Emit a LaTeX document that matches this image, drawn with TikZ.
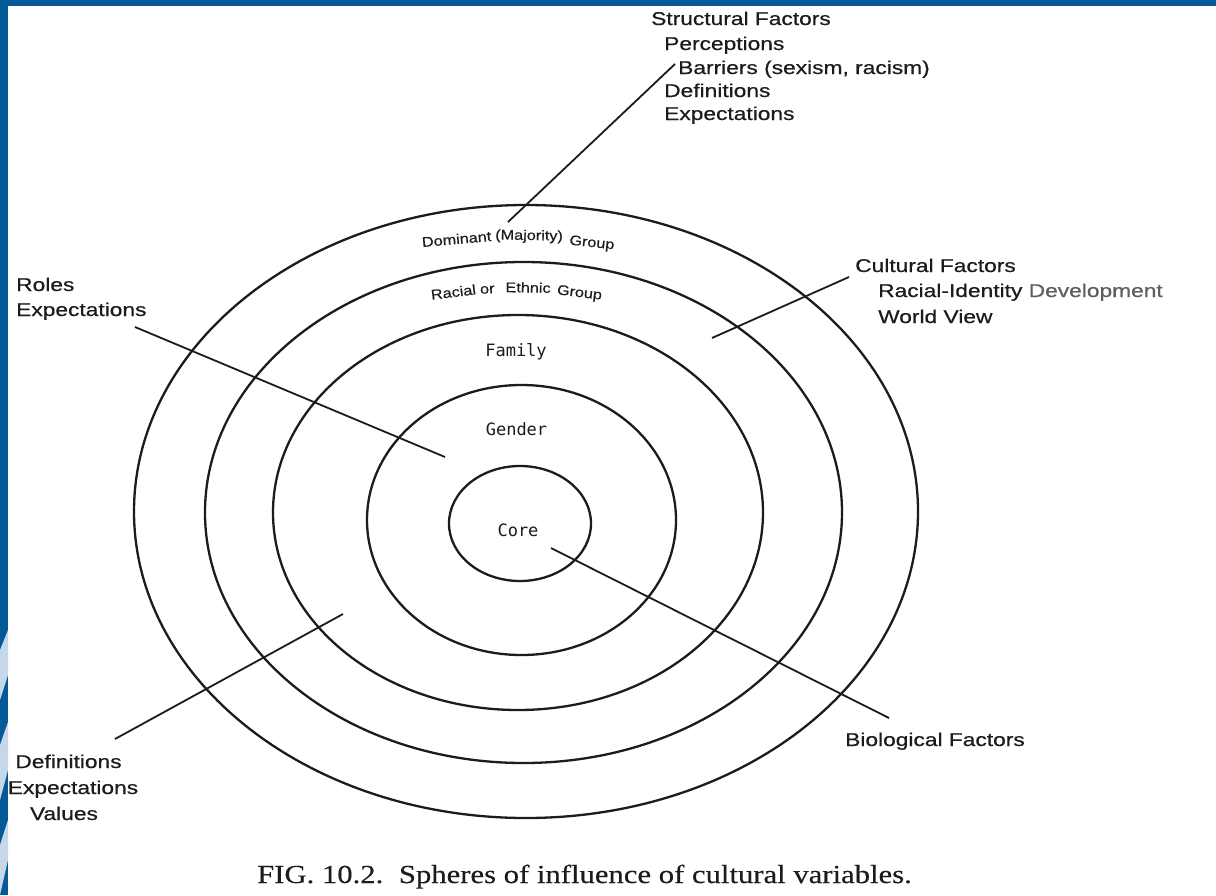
\documentclass[tikz,border=0pt]{standalone}
\usepackage{fontspec}
\newfontfamily\labfont{Liberation Sans}[FakeStretch=1.23,FakeBold=0.6]
\newfontfamily\ringfont{Liberation Sans}[FakeStretch=1.16,FakeBold=0.4]
\newfontfamily\capfont{Liberation Serif}[FakeStretch=1.18,FakeBold=0.3]
\newfontfamily\monofont{DejaVu Sans Mono}
\definecolor{slideblue}{HTML}{045A96}
\definecolor{lightband}{HTML}{C6D7EA}
\definecolor{ink}{HTML}{1C1C1C}
\definecolor{fadeink}{HTML}{5E5E5E}
\begin{document}
\begin{tikzpicture}[x=1pt,y=-1pt,
  ring/.style={draw=ink,line width=2.3pt},
  leader/.style={draw=ink,line width=1.8pt},
  biglabel/.style={inner sep=0pt,text=ink,font=\labfont\fontsize{18.5}{22}\selectfont},
  ringlabel/.style={inner sep=0pt,text=ink,font=\ringfont\fontsize{14}{16}\selectfont,anchor=base},
  monolabel/.style={inner sep=0pt,text=ink,font=\monofont\fontsize{17}{20}\selectfont,anchor=base},
  caplabel/.style={inner sep=0pt,text=ink,font=\capfont\fontsize{26}{30}\selectfont,anchor=base west}
  ]
\useasboundingbox (0,0) rectangle (1216,895);
\fill[white] (0,0) rectangle (1216,895);
% slide frame
\fill[slideblue] (0,0) rectangle (1216,6);
\fill[slideblue] (0,0) rectangle (8,895);
\begin{scope}
  \clip (0,600) rectangle (8,895);
  \fill[lightband] (0,650) -- (8,630) -- (8,675) -- (0,700) -- cycle;
  \fill[lightband] (0,745) -- (8,722) -- (8,770) -- (0,800) -- cycle;
  \fill[lightband] (0,845) -- (8,820) -- (8,860) -- (0,895) -- cycle;
\end{scope}

% spheres
\draw[ring] (526,511.5) ellipse [x radius=392, y radius=306.5];
\draw[ring] (523.5,512.5) ellipse [x radius=318.5, y radius=250.5];
\draw[ring] (518,512.5) ellipse [x radius=245, y radius=197.5];
\draw[ring] (521.5,520) ellipse [x radius=154.5, y radius=135];
\draw[ring] (520,523.5) ellipse [x radius=71, y radius=57.5];

% ring labels
\node[ringlabel,rotate=5] (dom1) at (457,244) {Dominant};
\node[ringlabel,rotate=-1] (dom2) at (529,240) {(Majority)};
\node[ringlabel,rotate=-6] (dom3) at (591.5,247) {Group};
\node[ringlabel,rotate=7] (rac1) at (454,297) {Racial};
\node[ringlabel,rotate=3] (rac2) at (487.5,293.5) {or};
\node[ringlabel,rotate=-1] (rac3) at (528,292.5) {Ethnic};
\node[ringlabel,rotate=-7] (rac4) at (579,297) {Group};
\node[monolabel] (family) at (516,356) {Family};
\node[monolabel] (gender) at (516.5,435) {Gender};
\node[monolabel] (core) at (518,536) {Core};

% outer labels
\node[biglabel,anchor=base west] (sf) at (651,25) {Structural Factors};
\node[biglabel,anchor=base west] (sf1) at (664,50) {Perceptions};
\node[biglabel,anchor=base west] (sf2) at (678,74) {Barriers (sexism, racism)};
\node[biglabel,anchor=base west] (sf3) at (664,97) {Definitions};
\node[biglabel,anchor=base west] (sf4) at (664,120) {Expectations};

\node[biglabel,anchor=base west] (cf) at (855,272) {Cultural Factors};
\node[biglabel,anchor=base west] (cf1) at (878,297) {Racial-Identity \textcolor{fadeink}{Development}};
\node[biglabel,anchor=base west] (cf2) at (878,323) {World View};

\node[biglabel,anchor=base west] (re1) at (16,291) {Roles};
\node[biglabel,anchor=base west] (re2) at (16,316) {Expectations};

\node[biglabel,anchor=base] (dv1) at (68.5,768) {Definitions};
\node[biglabel,anchor=base] (dv2) at (73,794) {Expectations};
\node[biglabel,anchor=base] (dv3) at (64,820) {Values};

\node[biglabel,anchor=base west] (bf) at (845,746) {Biological Factors};

% leader lines
\coordinate (sfEnd) at (675,64);   \coordinate (sfIn) at (508,222);
\coordinate (cfEnd) at (849,277);  \coordinate (cfIn) at (712,338);
\coordinate (reEnd) at (135,327);  \coordinate (reIn) at (445,457);
\coordinate (dvEnd) at (115,739);  \coordinate (dvIn) at (343,614);
\coordinate (bfEnd) at (889,718);  \coordinate (bfIn) at (551,548);
\draw[leader] (sfEnd) -- (sfIn);
\draw[leader] (cfEnd) -- (cfIn);
\draw[leader] (reEnd) -- (reIn);
\draw[leader] (dvEnd) -- (dvIn);
\draw[leader] (bfEnd) -- (bfIn);

% caption
\node[caplabel] (caption) at (257,883) {FIG. 10.2.\hspace{0.6em}Spheres of influence of cultural variables.};
\end{tikzpicture}
\end{document}
